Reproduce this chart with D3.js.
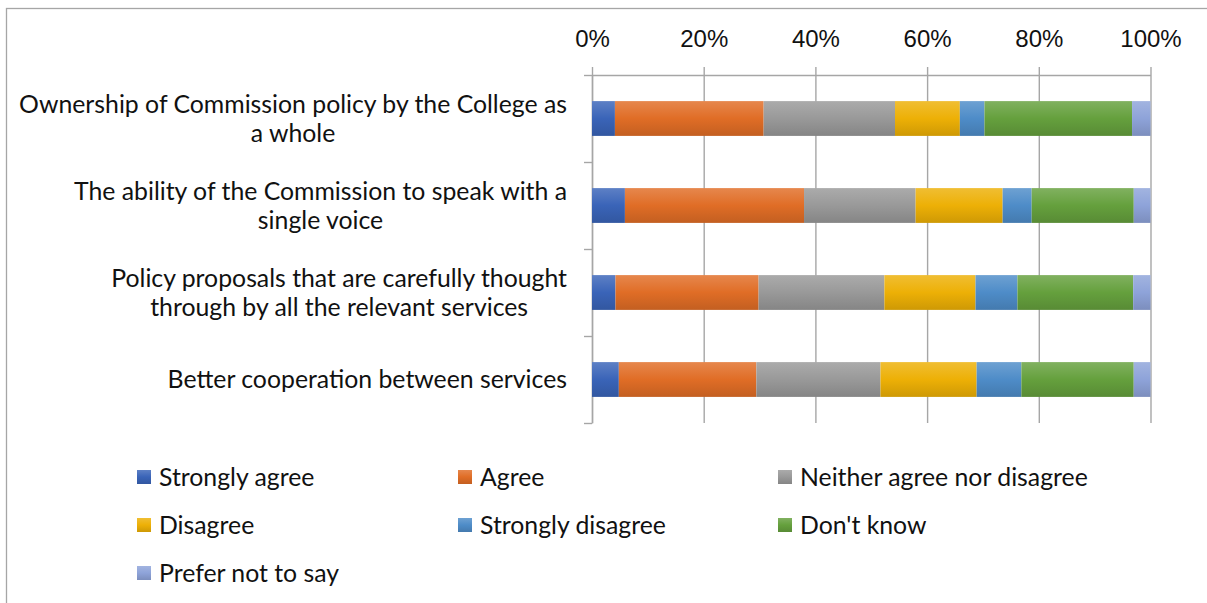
<!DOCTYPE html>
<html>
<head>
<meta charset="utf-8">
<script src="https://cdn.jsdelivr.net/npm/d3@7"></script>
<style>
  body { margin: 0; background: #fff; }
  svg { display: block; font-family: Lato, "Open Sans", sans-serif; }
  .axis path, .axis line { stroke: #a6a6a6; stroke-width: 1.4; }
  .grid path { display: none; }
  .grid line { stroke: #a6a6a6; stroke-width: 1.4; }
</style>
</head>
<body>
<svg id="chart" width="1207" height="603"></svg>
<script>
// categories (top to bottom) - each split into the lines shown on the chart
const categories = [
    "Ownership of Commission policy by the College as a whole",
    "The ability of the Commission to speak with a single voice",
    "Policy proposals that are carefully thought through by all the relevant services",
    "Better cooperation between services"
];
const categoryLines = [
    ["Ownership of Commission policy by the College as", "a whole"],
    ["The ability of the Commission to speak with a", "single voice"],
    ["Policy proposals that are carefully thought", "through by all the relevant services"],
    ["Better cooperation between services"]
];

const seriesNames = ["Strongly agree", "Agree", "Neither agree nor disagree",
    "Disagree", "Strongly disagree", "Don't know", "Prefer not to say"];

// share of answers (%), one value per category
const stronglyAgree    = [4.1, 5.9, 4.2, 4.8];
const agree            = [26.6, 32.1, 25.6, 24.6];
const neither          = [23.5, 20.0, 22.5, 22.2];
const disagree         = [11.6, 15.6, 16.3, 17.2];
const stronglyDisagree = [4.4, 5.2, 7.5, 8.0];
const dontKnow         = [26.4, 18.3, 20.7, 20.1];
const preferNot        = [3.3, 3.0, 3.1, 3.0];

const xTicks = [0, 0.2, 0.4, 0.6, 0.8, 1];

const colors = ["#3a64b8", "#e06d26", "#999999", "#edb006", "#4e8cc8", "#65a03d", "#8ea3d9"];

const seriesValues = [stronglyAgree, agree, neither, disagree, stronglyDisagree, dontKnow, preferNot];

const table = categories.map(function (c, i) {
    const row = { category: c };
    seriesNames.forEach(function (s, j) { row[s] = seriesValues[j][i]; });
    return row;
});

const svg = d3.select("#chart");
const fontSize = "24.8px";

// chart frame (only left and top edges fall inside the picture)
svg.append("rect")
    .attr("x", 6.5).attr("y", 8.5)
    .attr("width", 1400).attr("height", 800)
    .attr("fill", "none")
    .attr("stroke", "#a6a6a6")
    .attr("stroke-width", 1.3);

const plot = { left: 592, right: 1150.5, top: 75, bottom: 423 };

const x = d3.scaleLinear().domain([0, 1]).range([plot.left, plot.right]);
const y = d3.scaleBand()
    .domain(categories)
    .range([plot.top, plot.bottom])
    .paddingInner(0.6)
    .paddingOuter(0.3);
const yEdges = d3.scaleLinear().domain([0, categories.length]).range([plot.top, plot.bottom]);

// gradient per series, lighter on top, darker below
const defs = svg.append("defs");
colors.forEach(function (c, i) {
    const g = defs.append("linearGradient")
        .attr("id", "grad" + i)
        .attr("x1", 0).attr("y1", 0).attr("x2", 0).attr("y2", 1);
    g.append("stop").attr("offset", "0%").attr("stop-color", d3.interpolateRgb(c, "#fff")(0.18));
    g.append("stop").attr("offset", "50%").attr("stop-color", c);
    g.append("stop").attr("offset", "100%").attr("stop-color", d3.interpolateRgb(c, "#000")(0.13));
});

// vertical gridlines
svg.append("g")
    .attr("class", "grid")
    .attr("transform", `translate(0,${plot.top})`)
    .call(d3.axisTop(x).tickValues(xTicks).tickSize(-(plot.bottom - plot.top)).tickFormat(""));

// top axis with percent labels
const xAxis = svg.append("g")
    .attr("class", "axis")
    .attr("transform", `translate(0,${plot.top})`)
    .call(d3.axisTop(x).tickValues(xTicks).tickSizeInner(8).tickSizeOuter(0).tickPadding(20)
        .tickFormat(d3.format(".0%")));
xAxis.selectAll("text")
    .attr("fill", "#111")
    .style("font-size", "24px");

// left axis, ticks at category boundaries
svg.append("g")
    .attr("class", "axis")
    .attr("transform", `translate(${plot.left},0)`)
    .call(d3.axisLeft(yEdges).ticks(categories.length).tickSizeInner(8).tickSizeOuter(0).tickFormat(""));

// stacked bars
const stack = d3.stack().keys(seriesNames).offset(d3.stackOffsetExpand);
const layers = stack(table);

svg.append("g")
    .selectAll("g")
    .data(layers)
    .join("g")
    .attr("fill", function (d, i) { return "url(#grad" + i + ")"; })
    .selectAll("rect")
    .data(function (d) { return d; })
    .join("rect")
    .attr("x", function (d) { return x(d[0]); })
    .attr("y", function (d) { return y(d.data.category); })
    .attr("width", function (d) { return x(d[1]) - x(d[0]); })
    .attr("height", y.bandwidth());

// category labels: block right-aligned against the axis, lines centred in the block
const labelRight = plot.left - 25;
const lineHeight = 29;
categories.forEach(function (c, i) {
    const lines = categoryLines[i];
    const g = svg.append("g");
    const cy = y(c) + y.bandwidth() / 2;
    const texts = lines.map(function (line, k) {
        return g.append("text")
            .attr("y", cy + (k - (lines.length - 1) / 2) * lineHeight)
            .attr("dy", "0.35em")
            .attr("text-anchor", "middle")
            .attr("fill", "#111")
            .style("font-size", fontSize)
            .text(line);
    });
    const maxW = d3.max(texts, function (t) { return t.node().getComputedTextLength(); });
    texts.forEach(function (t) { t.attr("x", labelRight - maxW / 2); });
});

// legend, three columns
const legendCols = [137, 458, 778];
const legendRows = [477, 525, 573];
const legend = svg.append("g")
    .selectAll("g")
    .data(seriesNames)
    .join("g")
    .attr("transform", function (d, i) {
        return `translate(${legendCols[i % 3]},${legendRows[Math.floor(i / 3)]})`;
    });
legend.append("rect")
    .attr("x", 0).attr("y", -7)
    .attr("width", 14).attr("height", 14)
    .attr("fill", function (d, i) { return "url(#grad" + i + ")"; });
legend.append("text")
    .attr("x", 22)
    .attr("dy", "0.35em")
    .attr("fill", "#111")
    .style("font-size", fontSize)
    .text(function (d) { return d; });
</script>
</body>
</html>
